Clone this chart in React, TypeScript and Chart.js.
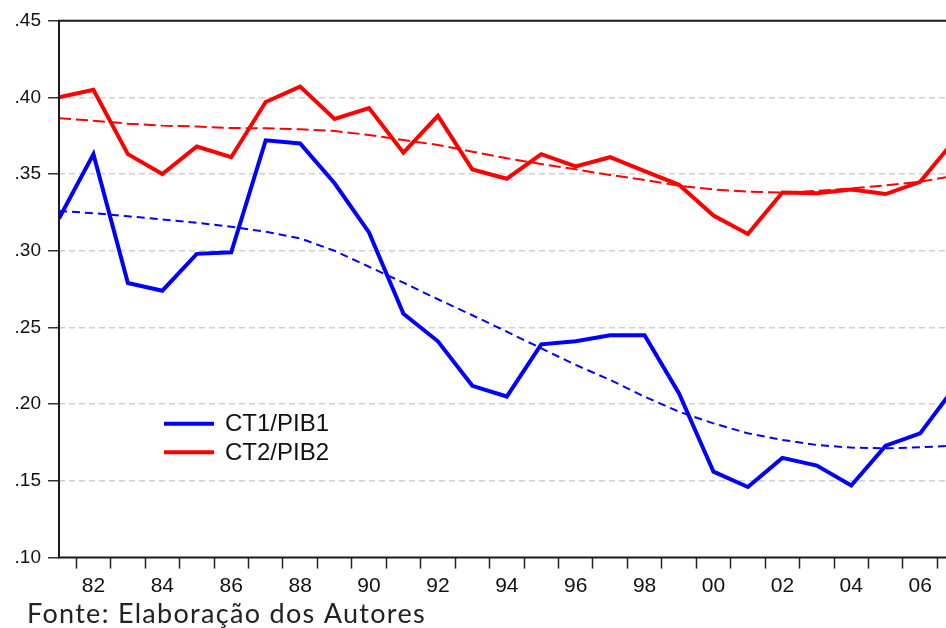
import React, { useEffect, useRef } from 'react';
import { Chart, registerables } from 'chart.js';

Chart.register(...registerables);

// ---- Data ----
const years = [1981, 1982, 1983, 1984, 1985, 1986, 1987, 1988, 1989, 1990, 1991, 1992, 1993, 1994, 1995, 1996, 1997, 1998, 1999, 2000, 2001, 2002, 2003, 2004, 2005, 2006, 2007];
const ct1Pib1 = [0.321, 0.363, 0.279, 0.274, 0.298, 0.299, 0.372, 0.370, 0.344, 0.312, 0.259, 0.241, 0.212, 0.205, 0.239, 0.241, 0.245, 0.245, 0.207, 0.156, 0.146, 0.165, 0.160, 0.147, 0.173, 0.181, 0.211];
const ct2Pib2 = [0.400, 0.405, 0.363, 0.350, 0.368, 0.361, 0.397, 0.407, 0.386, 0.393, 0.364, 0.388, 0.353, 0.347, 0.363, 0.355, 0.361, 0.352, 0.343, 0.323, 0.311, 0.338, 0.3375, 0.340, 0.337, 0.345, 0.372];
const trend1 = [0.326, 0.3245, 0.3225, 0.3205, 0.3183, 0.3157, 0.3124, 0.3081, 0.300, 0.2896, 0.2792, 0.2684, 0.258, 0.2473, 0.2364, 0.2256, 0.2158, 0.2049, 0.1951, 0.1875, 0.181, 0.1767, 0.1734, 0.1717, 0.1712, 0.1719, 0.173];
const trend2 = [0.3864, 0.3848, 0.3829, 0.3816, 0.381, 0.380, 0.3799, 0.3792, 0.3781, 0.3755, 0.3722, 0.369, 0.3646, 0.3603, 0.3566, 0.3531, 0.3494, 0.3462, 0.3424, 0.340, 0.3385, 0.338, 0.339, 0.3407, 0.3427, 0.345, 0.349];
const seriesLabels = ['CT1/PIB1', 'CT2/PIB2'];
const xLabelYears = [1982, 1984, 1986, 1988, 1990, 1992, 1994, 1996, 1998, 2000, 2002, 2004, 2006];
const yTickValues = [0.10, 0.15, 0.20, 0.25, 0.30, 0.35, 0.40, 0.45];
const footnote = 'Fonte: Elaboração dos Autores';

const X_MIN = 1981;
const X_MAX = 2006.75;
const FONT = "'Liberation Sans', Arial, sans-serif";
const BLUE = '#0000ff';
const RED = '#ff0000';

const toPoints = (vals: number[]) => years.map((yr, i) => ({ x: yr, y: vals[i] }));

const framePlugin = {
  id: 'frame',
  afterDatasetsDraw(chart: any) {
    const { ctx, chartArea } = chart;
    const { left, top, right, bottom } = chartArea;
    ctx.save();
    ctx.strokeStyle = '#1a1a1a';
    ctx.lineWidth = 2;
    ctx.beginPath();
    ctx.moveTo(right, top);
    ctx.lineTo(left, top);
    ctx.lineTo(left, bottom);
    ctx.lineTo(right, bottom);
    ctx.stroke();
    ctx.restore();
  },
};

const legendPlugin = {
  id: 'insideLegend',
  afterDraw(chart: any) {
    const { ctx, chartArea } = chart;
    const x0 = chartArea.left + 105;
    const y0 = chartArea.top + 403;
    const rowH = 28.5;
    ctx.save();
    [0, 1].forEach((di) => {
      const ds = chart.data.datasets[di];
      const y = y0 + di * rowH;
      ctx.strokeStyle = ds.borderColor;
      ctx.lineWidth = 4;
      ctx.beginPath();
      ctx.moveTo(x0, y);
      ctx.lineTo(x0 + 50, y);
      ctx.stroke();
      ctx.fillStyle = '#111';
      ctx.font = `24px ${FONT}`;
      ctx.textBaseline = 'middle';
      ctx.textAlign = 'left';
      ctx.fillText(ds.label, x0 + 61, y + 1);
    });
    ctx.restore();
  },
};

const footnotePlugin = {
  id: 'footnote',
  afterDraw(chart: any) {
    const { ctx } = chart;
    ctx.save();
    ctx.fillStyle = '#222';
    ctx.font = `27px Lato, 'Open Sans', sans-serif`;
    try { (ctx as any).letterSpacing = '1.3px'; } catch (e) { /* ignore */ }
    ctx.textBaseline = 'alphabetic';
    ctx.textAlign = 'left';
    ctx.fillText(footnote, 27, 623);
    ctx.restore();
  },
};

export default function App() {
  const canvasRef = useRef<HTMLCanvasElement | null>(null);

  useEffect(() => {
    const canvas = canvasRef.current;
    if (!canvas) return;
    Chart.defaults.font.family = FONT;

    const chart = new Chart(canvas, {
      type: 'line',
      data: {
        datasets: [
          { label: seriesLabels[0], data: toPoints(ct1Pib1), borderColor: BLUE, backgroundColor: BLUE, borderWidth: 4, pointRadius: 0, tension: 0, fill: false },
          { label: seriesLabels[1], data: toPoints(ct2Pib2), borderColor: RED, backgroundColor: RED, borderWidth: 4, pointRadius: 0, tension: 0, fill: false },
          { label: 'trend1', data: toPoints(trend1), borderColor: BLUE, backgroundColor: BLUE, borderWidth: 2, borderDash: [8, 5], pointRadius: 0, tension: 0, fill: false },
          { label: 'trend2', data: toPoints(trend2), borderColor: RED, backgroundColor: RED, borderWidth: 2, borderDash: [12, 5], pointRadius: 0, tension: 0, fill: false },
        ],
      },
      options: {
        animation: false,
        responsive: false,
        maintainAspectRatio: false,
        layout: { padding: { top: 20.7, left: 0, right: 0, bottom: 0 } },
        plugins: {
          legend: { display: false },
          tooltip: { enabled: false },
          title: { display: false },
        },
        scales: {
          x: {
            type: 'linear',
            min: X_MIN,
            max: X_MAX,
            afterFit: (s: any) => { s.height = 70.4; },
            afterBuildTicks: (s: any) => {
              const t: any[] = [];
              for (let v = X_MIN; v <= X_MAX; v += 0.5) t.push({ value: v });
              s.ticks = t;
            },
            ticks: {
              autoSkip: false,
              maxRotation: 0,
              minRotation: 0,
              padding: 5,
              color: '#111',
              font: { size: 21, family: FONT },
              callback: (v: any) => (xLabelYears.includes(Number(v)) ? String(v).slice(2) : ''),
            },
            grid: {
              drawOnChartArea: false,
              drawTicks: true,
              tickLength: 11,
              tickWidth: 1.5,
              color: '#222',
              tickColor: (ctx: any) => (ctx.tick && Number.isInteger(ctx.tick.value) ? 'rgba(0,0,0,0)' : '#222'),
            },
            border: { display: false },
          },
          y: {
            type: 'linear',
            min: 0.10,
            max: 0.45,
            afterFit: (s: any) => { s.width = 59; },
            afterBuildTicks: (s: any) => { s.ticks = yTickValues.map((v) => ({ value: v })); },
            ticks: {
              padding: 7,
              color: '#111',
              font: { size: 19, family: FONT },
              callback: (v: any) => Number(v).toFixed(2).replace(/^0/, ''),
            },
            grid: {
              drawOnChartArea: true,
              drawTicks: true,
              tickLength: 11,
              tickWidth: 1.5,
              tickColor: '#333',
              lineWidth: 1.5,
              color: (ctx: any) => (ctx.index === 0 || ctx.index === yTickValues.length - 1 ? 'rgba(0,0,0,0)' : '#d0d0d0'),
            },
            border: { display: false, dash: [6, 4] },
          },
        },
      },
      plugins: [framePlugin, legendPlugin, footnotePlugin],
    } as any);

    return () => chart.destroy();
  }, []);

  return (
    <div style={{ position: 'fixed', left: 0, top: 0, width: 946, height: 628, background: '#fff', overflow: 'hidden' }}>
      <canvas ref={canvasRef} width={946} height={628} style={{ display: 'block', width: 946, height: 628 }} />
    </div>
  );
}
